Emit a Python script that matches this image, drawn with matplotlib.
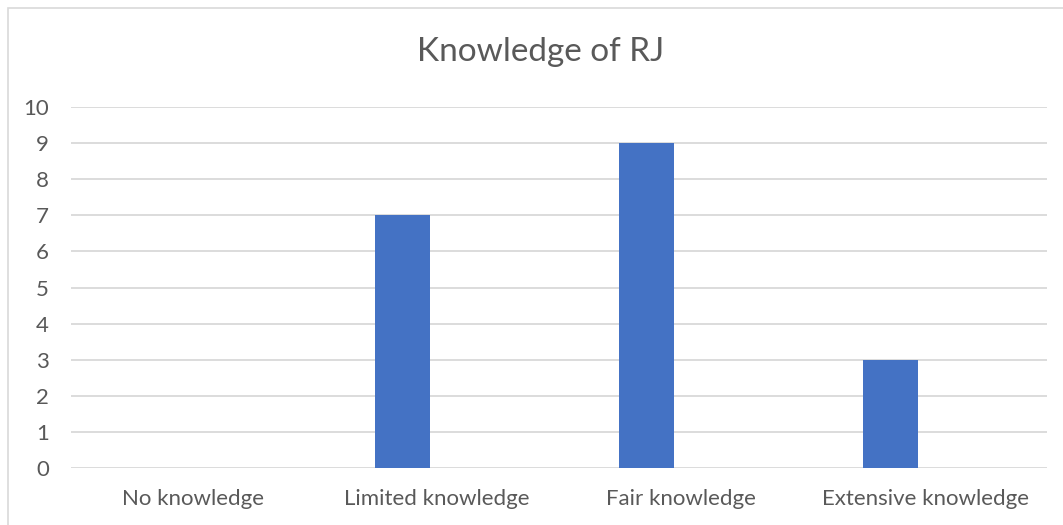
import matplotlib
matplotlib.use("Agg")
import matplotlib.pyplot as plt
from matplotlib.patches import Rectangle

categories = ["No knowledge", "Limited knowledge", "Fair knowledge", "Extensive knowledge"]
values = [0, 7, 9, 3]
yticks = [0, 1, 2, 3, 4, 5, 6, 7, 8, 9, 10]
title = "Knowledge of RJ"

plt.rcParams['font.family'] = ['Lato', 'DejaVu Sans']
W, H = 1063, 525
fig = plt.figure(figsize=(W / 100, H / 100), dpi=100)
ax = fig.add_axes([71 / W, 1 - 468.3 / H, (1047 - 71) / W, (468.3 - 106.7) / H])

x = list(range(len(categories)))
ax.bar([i - 0.1414 for i in x], values, width=0.2234, color="#4472C4", zorder=3)

ax.set_xlim(-0.5, len(categories) - 0.5)
ax.set_ylim(0, 10)
ax.set_yticks(yticks)
ax.set_xticks(x)
ax.set_xticklabels(categories)
ax.grid(axis="y", color="#d9d9d9", linewidth=1.3, zorder=0)
for s in ax.spines.values():
    s.set_visible(False)
ax.tick_params(axis="both", length=0, labelsize=16, colors="#595959")
ax.tick_params(axis="y", pad=16)
ax.tick_params(axis="x", pad=15)

fig.text(541 / W, 1 - 52 / H, title, ha="center", va="center", fontsize=24, color="#595959")

fig.patches.append(Rectangle((7.5 / W, -0.1), 1.2, 1 - 8 / H + 0.1, transform=fig.transFigure,
                             fill=False, edgecolor="#d9d9d9", linewidth=1.2))

fig.savefig("out.png", dpi=100)
